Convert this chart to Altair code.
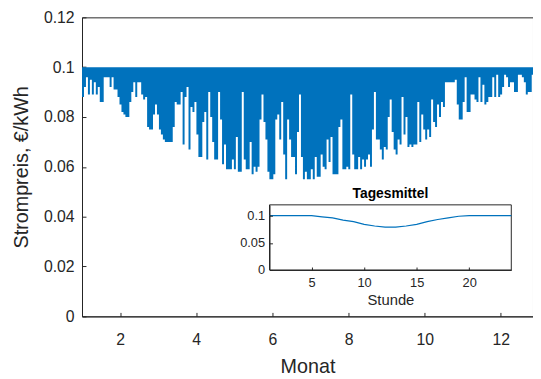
import altair as alt
import pandas as pd

# lowest hourly price in each ~1.6-day bin (EUR/kWh)
min_price = [
    0.088, 0.092, 0.096, 0.089, 0.095, 0.089, 0.094, 0.089, 0.092, 0.086, 0.086, 0.096, 0.096,
    0.096, 0.092, 0.096, 0.091, 0.091, 0.088, 0.085, 0.082, 0.081, 0.080, 0.080, 0.086, 0.090,
    0.094, 0.088, 0.094, 0.094, 0.089, 0.087, 0.088, 0.076, 0.075, 0.075, 0.081, 0.085, 0.081,
    0.075, 0.073, 0.071, 0.070, 0.070, 0.070, 0.070, 0.076, 0.086, 0.085, 0.085, 0.090, 0.069,
    0.088, 0.092, 0.067, 0.084, 0.082, 0.086, 0.073, 0.064, 0.064, 0.078, 0.082, 0.063, 0.090,
    0.080, 0.070, 0.063, 0.063, 0.090, 0.079, 0.061, 0.069, 0.059, 0.059, 0.059, 0.063, 0.059,
    0.072,
    0.058, 0.058, 0.090, 0.063, 0.059, 0.059, 0.070, 0.057, 0.060, 0.058, 0.060, 0.079, 0.089,
    0.078, 0.071, 0.058, 0.055, 0.055, 0.057, 0.079, 0.081, 0.071, 0.086, 0.065, 0.055, 0.079,
    0.071, 0.064, 0.064, 0.057, 0.074, 0.089, 0.064, 0.055, 0.058, 0.055, 0.055, 0.059, 0.055,
    0.064,
    0.056, 0.056, 0.065, 0.060, 0.059, 0.071, 0.062, 0.072, 0.057, 0.057, 0.057, 0.076, 0.079,
    0.059, 0.059, 0.060, 0.059, 0.089, 0.065, 0.059, 0.059, 0.064, 0.059, 0.063, 0.060, 0.063,
    0.065, 0.060, 0.075, 0.090, 0.071, 0.071, 0.067, 0.063, 0.068, 0.067, 0.080, 0.087, 0.074,
    0.067,
    0.065, 0.071, 0.069, 0.088, 0.073, 0.080, 0.068, 0.069, 0.068, 0.069, 0.069, 0.086, 0.070,
    0.081, 0.075, 0.071, 0.075, 0.072, 0.087, 0.078, 0.076, 0.085, 0.080, 0.086, 0.084, 0.094,
    0.094, 0.094, 0.094, 0.094, 0.095, 0.085, 0.079, 0.079, 0.086, 0.096, 0.082, 0.082, 0.089,
    0.089,
    0.087, 0.086, 0.096, 0.086, 0.093, 0.085, 0.086, 0.088, 0.088, 0.096, 0.088, 0.097, 0.088,
    0.089, 0.092, 0.097, 0.096, 0.092, 0.094, 0.094, 0.090, 0.090, 0.097, 0.097, 0.096, 0.094,
    0.089, 0.090, 0.090, 0.097, 0.097,
]
bin_months = 0.0518      # width of one bin in months
price_cap = 0.1          # upper price level (EUR/kWh)
month_range = [1, 12.844]
price_range = [0, 0.12]
month_ticks = [2, 4, 6, 8, 10, 12]
price_ticks = [0, 0.02, 0.04, 0.06, 0.08, 0.1, 0.12]

# inset: daily mean profile
hours = list(range(1, 25))
hourly_mean = [0.1, 0.1, 0.1, 0.1, 0.1, 0.098, 0.096, 0.092, 0.089, 0.084, 0.081, 0.079,
               0.079, 0.081, 0.084, 0.089, 0.093, 0.096, 0.099, 0.1, 0.1, 0.1, 0.1, 0.1]
hour_range = [1, 24]
inset_price_range = [0, 0.12]
hour_ticks = [5, 10, 15, 20]
inset_price_ticks = [0, 0.05, 0.1]
inset_title = "Tagesmittel"

TXT = "#262626"
BLUE = "#0072BD"
FONT = "Liberation Sans"

months = [1 + i * bin_months for i in range(len(min_price))]
main_df = pd.DataFrame({
    "monat": months + [months[-1] + bin_months],
    "lo": min_price + [min_price[-1]],
    "hi": price_cap,
})

mx = alt.Scale(domain=month_range, nice=False, zero=False)
my = alt.Scale(domain=price_range, nice=False)

main = alt.Chart(main_df).mark_area(interpolate="step-after", color=BLUE, clip=True).encode(
    x=alt.X("monat:Q", scale=mx,
            axis=alt.Axis(orient="bottom", values=month_ticks, format="d", title="Monat",
                          grid=False, ticks=False, labelPadding=16, titlePadding=9,
                          labelFontSize=16, titleFontSize=20)),
    y=alt.Y("lo:Q", scale=my,
            axis=alt.Axis(orient="left", values=price_ticks, format=".2~f",
                          title="Strompreis, €/kWh", grid=False, ticks=False,
                          labelPadding=8, titlePadding=12,
                          labelFontSize=16, titleFontSize=20)),
    y2="hi:Q",
)

# inward tick marks (MATLAB style) via a second, label-less axis pair
main_ticks = alt.Chart(main_df).mark_point(opacity=0).encode(
    x=alt.X("monat:Q", scale=mx,
            axis=alt.Axis(orient="bottom", offset=-4, tickSize=4, values=month_ticks,
                          labels=False, domain=False, grid=False, title=None)),
    y=alt.Y("lo:Q", scale=my,
            axis=alt.Axis(orient="left", offset=-4, tickSize=4, values=price_ticks,
                          labels=False, domain=False, grid=False, title=None)),
)

main_group = alt.layer(main, main_ticks).resolve_axis(x="independent", y="independent")

ix = alt.Scale(domain=hour_range, range=[190, 435], nice=False, zero=False)
iy = alt.Scale(domain=inset_price_range, range=[256, 190], nice=False)

frame_df = pd.DataFrame({"h0": [hour_range[0]], "h1": [hour_range[1]],
                         "p0": [inset_price_range[0]], "p1": [inset_price_range[1]]})
frame = alt.Chart(frame_df).mark_rect(fill="white", stroke=TXT, strokeWidth=1).encode(
    x=alt.X("h0:Q", scale=ix,
            axis=alt.Axis(orient="bottom", offset=-47, values=hour_ticks, format="d",
                          title="Stunde", grid=False, ticks=False, labelPadding=7,
                          titlePadding=3, labelFontSize=13, titleFontSize=15, zindex=2)),
    x2="h1:Q",
    y=alt.Y("p0:Q", scale=iy,
            axis=alt.Axis(orient="left", offset=-190, values=inset_price_ticks, format=".2~f",
                          title=None, grid=False, ticks=False, labelPadding=5,
                          labelFontSize=13, zindex=2)),
    y2="p1:Q",
)

inset_df = pd.DataFrame({"h0": hours, "p0": hourly_mean})
line = alt.Chart(inset_df).mark_line(color=BLUE, strokeWidth=1.2).encode(
    x=alt.X("h0:Q", scale=ix,
            axis=alt.Axis(orient="bottom", offset=-50, tickSize=3, values=hour_ticks,
                          labels=False, domain=False, grid=False, title=None, zindex=2)),
    y=alt.Y("p0:Q", scale=iy,
            axis=alt.Axis(orient="left", offset=-193, tickSize=3, values=inset_price_ticks,
                          labels=False, domain=False, grid=False, title=None, zindex=2)),
)

title_df = pd.DataFrame({"h0": [(hour_range[0] + hour_range[1]) / 2],
                         "p0": [inset_price_range[1]], "t": [inset_title]})
title = alt.Chart(title_df).mark_text(fontWeight="bold", fontSize=14, baseline="alphabetic",
                                      dy=-7, color="black", font=FONT).encode(
    x=alt.X("h0:Q", scale=ix, axis=None), y=alt.Y("p0:Q", scale=iy, axis=None), text="t:N")

inset = alt.layer(frame, line, title).resolve_axis(x="independent", y="independent")

chart = alt.layer(main_group, inset).resolve_scale(x="independent", y="independent").properties(
    width=457, height=303,
    autosize=alt.AutoSizeParams(type="none"),
    padding={"left": 75, "top": 7, "right": 0, "bottom": 62},
).configure_view(stroke=TXT, strokeWidth=1).configure_axis(
    labelColor=TXT, titleColor=TXT, domainColor=TXT, tickColor=TXT,
    labelFont=FONT, titleFont=FONT, titleFontWeight="normal",
)

chart.save("out.html", embed_options={"renderer": "svg", "actions": False})
